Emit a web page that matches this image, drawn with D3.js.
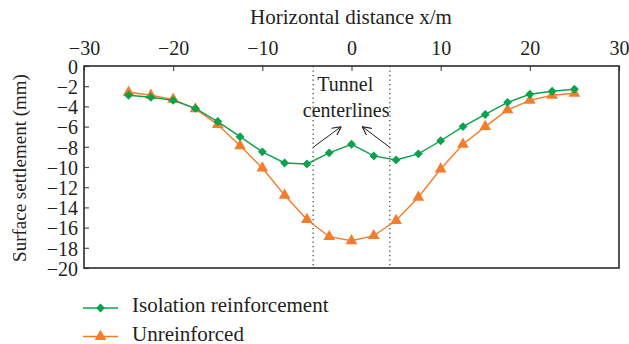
<!DOCTYPE html>
<html>
<head>
<meta charset="utf-8">
<script src="https://cdn.jsdelivr.net/npm/d3@7"></script>
<style>
  html, body { margin: 0; padding: 0; background: #fff; }
  svg text { font-family: "Liberation Serif", "DejaVu Serif", serif; fill: #231f20; }
</style>
</head>
<body>
<svg id="chart" width="629" height="344"></svg>
<script>
// Horizontal distance from the tunnel axis (m)
const distances = [-25, -22.5, -20, -17.5, -15, -12.5, -10, -7.5, -5, -2.5, 0,
                   2.5, 5, 7.5, 10, 12.5, 15, 17.5, 20, 22.5, 25];
// Surface settlement (mm)
const isolationReinforcement = [-2.9, -3.1, -3.4, -4.2, -5.5, -7.0, -8.5, -9.6, -9.7, -8.6, -7.75,
                                -8.9, -9.3, -8.7, -7.4, -6.0, -4.8, -3.6, -2.8, -2.5, -2.3];
const unreinforced = [-2.6, -2.9, -3.3, -4.25, -5.8, -7.9, -10.1, -12.8, -15.2, -16.9, -17.3,
                      -16.8, -15.3, -13.0, -10.2, -7.75, -6.0, -4.35, -3.4, -2.9, -2.7];
const seriesNames = ["Isolation reinforcement", "Unreinforced"];
const xTicks = [-30, -20, -10, 0, 10, 20, 30];
const yTicks = [0, -2, -4, -6, -8, -10, -12, -14, -16, -18, -20];
const centerlines = [-4.3, 4.3];

const svg = d3.select("#chart");
const margin = { left: 84, right: 10, top: 66, bottom: 76 };
const W = 629, H = 344;

const x = d3.scaleLinear().domain([-30, 30]).range([margin.left, W - margin.right]);
const y = d3.scaleLinear().domain([0, -20]).range([margin.top, H - margin.bottom]);

const fmt = d => (d < 0 ? "\u2212" + Math.abs(d) : String(d));

// Axes: x along the top, y on the left, ticks pointing inward
const xAxis = svg.append("g")
  .attr("transform", `translate(0,${y(0)})`)
  .call(d3.axisTop(x).tickValues(xTicks).tickSize(-5).tickPadding(11).tickFormat(fmt));

const yAxis = svg.append("g")
  .attr("transform", `translate(${x(-30)},0)`)
  .call(d3.axisLeft(y).tickValues(yTicks).tickSize(-5).tickPadding(6).tickFormat(fmt));

[xAxis, yAxis].forEach(a => {
  a.select(".domain").remove();
  a.selectAll(".tick line").attr("stroke", "#555").attr("stroke-width", 1.2);
  a.selectAll("text").attr("font-size", 20)
    .style("font-family", "'Liberation Serif', serif").attr("fill", "#231f20");
});
yAxis.selectAll("text").attr("dy", "0.36em");

// Plot frame
svg.append("rect")
  .attr("x", x(-30)).attr("y", y(0))
  .attr("width", x(30) - x(-30)).attr("height", y(-20) - y(0))
  .attr("fill", "none").attr("stroke", "#2b2b2b").attr("stroke-width", 1.6);

// Tunnel centerlines
svg.selectAll("line.center").data(centerlines).enter().append("line")
  .attr("class", "center")
  .attr("x1", d => x(d)).attr("x2", d => x(d))
  .attr("y1", y(0)).attr("y2", y(-20))
  .attr("stroke", "#444").attr("stroke-width", 1.3)
  .attr("stroke-dasharray", "1.3,3.2");

// Annotation
const ann = svg.append("g").attr("font-size", 20).attr("text-anchor", "middle");
ann.append("text").attr("x", x(-0.7)).attr("y", 91).text("Tunnel");
ann.append("text").attr("x", x(-0.6)).attr("y", 117).text("centerlines");

svg.append("defs").append("marker")
  .attr("id", "arrow").attr("viewBox", "0 0 10 10").attr("refX", 10).attr("refY", 5)
  .attr("markerWidth", 9).attr("markerHeight", 9).attr("markerUnits", "userSpaceOnUse")
  .attr("orient", "auto")
  .append("path").attr("d", "M0,0 L10,5 L0,10").attr("fill", "none")
  .attr("stroke", "#231f20").attr("stroke-width", 1.2);

const arrows = [
  { from: [-4.3, -8.05], to: [-1.15, -6.0] },
  { from: [4.3, -8.05], to: [1.2, -6.0] }
];
svg.selectAll("line.arrow").data(arrows).enter().append("line")
  .attr("class", "arrow")
  .attr("x1", d => x(d.from[0])).attr("y1", d => y(d.from[1]))
  .attr("x2", d => x(d.to[0])).attr("y2", d => y(d.to[1]))
  .attr("stroke", "#231f20").attr("stroke-width", 1)
  .attr("marker-end", "url(#arrow)");

// Series
const green = "#0ca14b", orange = "#f47d2c";
const series = [
  { name: seriesNames[0], values: isolationReinforcement, color: green, symbol: d3.symbolDiamond2, size: 50 },
  { name: seriesNames[1], values: unreinforced, color: orange, symbol: d3.symbolTriangle, size: 60 }
];

const line = d3.line().x((d, i) => x(distances[i])).y(d => y(d));

// draw unreinforced first so the green series sits on top where they overlap
[series[1], series[0]].forEach(s => {
  svg.append("path").datum(s.values)
    .attr("d", line).attr("fill", "none")
    .attr("stroke", s.color).attr("stroke-width", 1.4);
  svg.append("g").selectAll("path").data(s.values).enter().append("path")
    .attr("transform", (d, i) => `translate(${x(distances[i])},${y(d)})`)
    .attr("d", d3.symbol().type(s.symbol).size(s.size))
    .attr("fill", s.color);
});

// Axis titles
svg.append("text").attr("x", 351).attr("y", 24).attr("text-anchor", "middle")
  .attr("font-size", 21).text("Horizontal distance x/m");
svg.append("text").attr("transform", `translate(26,${(y(0) + y(-20)) / 2 + 1}) rotate(-90)`)
  .attr("text-anchor", "middle").attr("font-size", 19).text("Surface settlement (mm)");

// Legend
const legend = svg.append("g");
series.forEach((s, i) => {
  const ly = 308 + i * 28.5;
  legend.append("line").attr("x1", 83).attr("x2", 118).attr("y1", ly).attr("y2", ly)
    .attr("stroke", s.color).attr("stroke-width", 1.4);
  legend.append("path").attr("transform", `translate(100.5,${ly})`)
    .attr("d", d3.symbol().type(s.symbol).size(s.size)).attr("fill", s.color);
  legend.append("text").attr("x", 132).attr("y", ly + 4).attr("font-size", 21).text(s.name);
});
</script>
</body>
</html>
